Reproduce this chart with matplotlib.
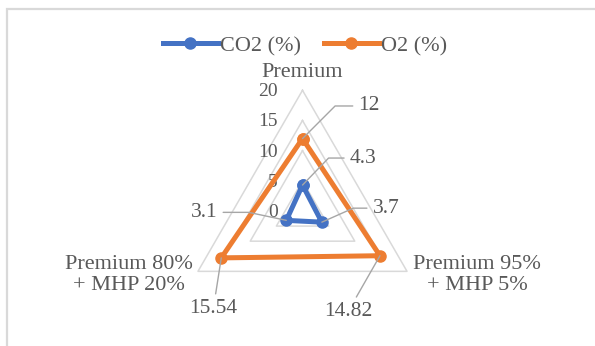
import numpy as np
import matplotlib
matplotlib.use("Agg")
import matplotlib.pyplot as plt
from matplotlib.patches import Rectangle

# данные
categories = ["Premium", "Premium 95%\n+ MHP 5%", "Premium 80%\n+ MHP 20%"]
co2 = [4.3, 3.7, 3.1]
o2 = [12, 14.82, 15.54]
ticks = [0, 5, 10, 15, 20]
series_names = ["CO2 (%)", "O2 (%)"]

plt.rcParams['font.family'] = ['Liberation Serif', 'DejaVu Serif']
txt_color = "#595959"
grid_color = "#d9d9d9"
colors = ["#4472C4", "#ED7D31"]

# углы осей: сверху, справа-снизу, слева-снизу
angles = np.deg2rad([90, -30, 210])


def to_xy(values):
    v = np.asarray(values, dtype=float)
    return v * np.cos(angles), v * np.sin(angles)


def closed(a):
    return np.append(a, a[0])


W, H = 595, 346
fig = plt.figure(figsize=(W / 100, H / 100), dpi=100)
ax = fig.add_axes([0, 0, 1, 1])
ax.axis('off')

# масштаб: пикселей на единицу, центр в пикселях
s = 6.035
cx, cy = 302.5, 211
ax.set_xlim(-cx / s, (W - cx) / s)
ax.set_ylim(-(H - cy) / s, cy / s)

# рамка
fig.patches.append(Rectangle((7 / W, -0.1), 1.2, (H - 9) / H + 0.1,
                             transform=fig.transFigure, fill=False,
                             edgecolor=grid_color, linewidth=1.6))

# сетка
for t in ticks[1:]:
    gx, gy = to_xy([t] * 3)
    ax.plot(closed(gx), closed(gy), color=grid_color, lw=1.1, zorder=1)

# подписи шкалы
for t in ticks:
    ax.annotate(str(t), xy=(0, t), xytext=(-25, -1.5), textcoords='offset pixels',
                ha='right', va='center', fontsize=14, color=txt_color)

# подписи категорий
cat_off = [(0, 18), (70, -4), (-69, -4)]
vx, vy = to_xy([ticks[-1]] * 3)
for i, name in enumerate(categories):
    ax.annotate(name, xy=(vx[i], vy[i]), xytext=cat_off[i], textcoords='offset pixels',
                ha='center', va='center', fontsize=16, color=txt_color,
                multialignment='center', linespacing=1.15)

# серии
for vals, c, name in zip([co2, o2], colors, series_names):
    px, py = to_xy(vals)
    ax.plot(closed(px), closed(py), color=c, lw=3.6, marker='o', markersize=8,
            label=name, zorder=3, solid_joinstyle='miter')

# подписи данных с выносками
lbl_off = {
    ("co2", 0): ((60.5, 27), "angle,angleA=0,angleB=46,rad=0"),
    ("co2", 1): ((64, 14), "angle,angleA=0,angleB=24,rad=0"),
    ("co2", 2): ((-82, 8), "angle,angleA=0,angleB=168,rad=0"),
    ("o2", 0): ((66.5, 32.6), "angle,angleA=0,angleB=45,rad=0"),
    ("o2", 1): ((-32, -56), "arc3,rad=0"),
    ("o2", 2): ((-8, -51), "arc3,rad=0"),
}
for key, vals in [("co2", co2), ("o2", o2)]:
    px, py = to_xy(vals)
    for i, v in enumerate(vals):
        off, conn = lbl_off[(key, i)]
        ax.annotate(f"{v:g}", xy=(px[i], py[i]), xytext=off, textcoords='offset pixels',
                    ha='center', va='center', fontsize=15.5, color=txt_color, zorder=5,
                    arrowprops=dict(arrowstyle='-', color='#a6a6a6', lw=1.0,
                                    connectionstyle=conn, shrinkA=2, shrinkB=0))

leg = ax.legend(loc='center', bbox_to_anchor=(305 / W, 1 - 46 / H),
                bbox_transform=fig.transFigure, ncol=2, frameon=False,
                fontsize=16, handlelength=2.5, handletextpad=0.1,
                columnspacing=1.0, borderpad=0)
for t in leg.get_texts():
    t.set_color(txt_color)

fig.savefig("out.png", dpi=100)
